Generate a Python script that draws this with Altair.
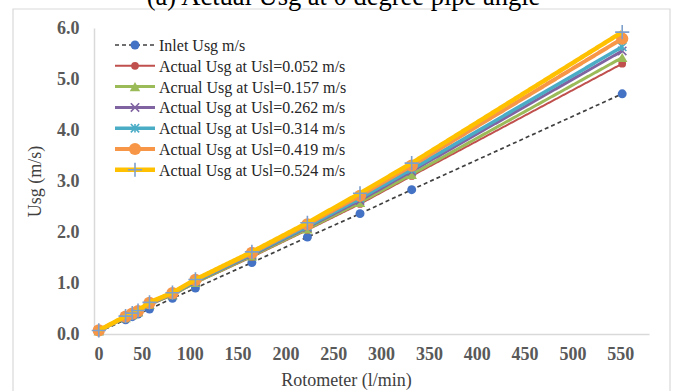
import altair as alt
import pandas as pd

# Rotometer readings (l/min) and gas superficial velocities (m/s)
flow = [5, 33, 40, 46, 58, 82, 106, 165, 223, 278, 332, 552]
inlet = [0.04, 0.28, 0.34, 0.39, 0.49, 0.70, 0.90, 1.40, 1.90, 2.36, 2.83, 4.71]
usg_052 = [0.06, 0.31, 0.37, 0.42, 0.57, 0.76, 1.00, 1.51, 2.04, 2.55, 3.10, 5.30]
usg_157 = [0.06, 0.32, 0.38, 0.43, 0.58, 0.77, 1.01, 1.53, 2.06, 2.58, 3.13, 5.42]
usg_262 = [0.07, 0.33, 0.39, 0.44, 0.59, 0.78, 1.03, 1.55, 2.09, 2.62, 3.19, 5.55]
usg_314 = [0.07, 0.33, 0.39, 0.44, 0.60, 0.79, 1.04, 1.57, 2.11, 2.66, 3.23, 5.63]
usg_419 = [0.07, 0.34, 0.40, 0.45, 0.61, 0.80, 1.06, 1.59, 2.15, 2.71, 3.30, 5.79]
usg_524 = [0.07, 0.35, 0.41, 0.46, 0.62, 0.81, 1.07, 1.61, 2.18, 2.76, 3.35, 5.92]

series_names = [
    "Inlet Usg m/s",
    "Actual Usg at Usl=0.052 m/s",
    "Acrual Usg at Usl=0.157 m/s",
    "Actual Usg at Usl=0.262 m/s",
    "Actual Usg at Usl=0.314 m/s",
    "Actual Usg at Usl=0.419 m/s",
    "Actual Usg at Usl=0.524 m/s",
]
series_values = [inlet, usg_052, usg_157, usg_262, usg_314, usg_419, usg_524]

x_ticks = [0, 50, 100, 150, 200, 250, 300, 350, 400, 450, 500, 550]
y_ticks = [0, 1, 2, 3, 4, 5, 6]

rows = []
for name, vals in zip(series_names, series_values):
    for q, v in zip(flow, vals):
        rows.append({"series": name, "flow": q, "usg": v})
df = pd.DataFrame(rows)

X_SHAPE = "M-1,-1L1,1M-1,1L1,-1"
STAR_SHAPE = "M-1,-1L1,1M-1,1L1,-1M0,-1L0,1"
PLUS_SHAPE = "M-1,0L1,0M0,-1L0,1"

# line colour, line width, dash, marker shape, marker colour, marker size, filled
styles = [
    dict(line="#404040", lw=1.7, dash=[4, 3], shape="circle", mc="#4472C4", ms=80, filled=True),
    dict(line="#C0504D", lw=2.0, dash=[1, 0], shape="circle", mc="#C0504D", ms=60, filled=True),
    dict(line="#9BBB59", lw=3.0, dash=[1, 0], shape="triangle-up", mc="#9BBB59", ms=110, filled=True),
    dict(line="#8064A2", lw=3.0, dash=[1, 0], shape=X_SHAPE, mc="#8064A2", ms=70, filled=False),
    dict(line="#4BACC6", lw=3.5, dash=[1, 0], shape=STAR_SHAPE, mc="#4BACC6", ms=70, filled=False),
    dict(line="#F79646", lw=4.0, dash=[1, 0], shape="circle", mc="#F79646", ms=150, filled=True),
    dict(line="#FFC000", lw=4.5, dash=[1, 0], shape=PLUS_SHAPE, mc="#7F9FCC", ms=200, filled=False),
]

PLOT_W, PLOT_H = 555, 306

x_enc = alt.X(
    "flow:Q",
    scale=alt.Scale(domain=[0, 580], nice=False),
    axis=alt.Axis(
        values=x_ticks, title="Rotometer (l/min)", titleX=252, titleY=46,
        titleAlign="center", titleBaseline="middle",
    ),
)
y_enc = alt.Y(
    "usg:Q",
    scale=alt.Scale(domain=[0, 6], nice=False),
    axis=alt.Axis(
        values=y_ticks, format=".1f", title="Usg (m/s)", titleX=-59, titleY=PLOT_H / 2,
        titleAlign="center", titleBaseline="middle", titleAngle=-90,
    ),
)

layers = []

# chart frame
layers.append(
    alt.Chart(alt.Data(values=[{}])).mark_rect(
        fillOpacity=0, stroke="#d9d9d9", strokeWidth=1.2
    ).encode(x=alt.value(-81), x2=alt.value(576), y=alt.value(-19), y2=alt.value(366))
)

# heading, partly above the frame
layers.append(
    alt.Chart(alt.Data(values=[{}])).mark_text(
        text="(a) Actual Usg at 0 degree pipe angle", font="Liberation Serif",
        fontSize=26.5, color="#000000", align="center", baseline="alphabetic",
    ).encode(x=alt.value(249.5), y=alt.value(-23))
)

for name, st in zip(series_names, styles):
    sub = alt.Chart(df).transform_filter(alt.datum.series == name)
    layers.append(
        sub.mark_line(color=st["line"], strokeWidth=st["lw"], strokeDash=st["dash"]).encode(
            x=x_enc, y=y_enc, order="flow:Q"
        )
    )
    layers.append(
        sub.mark_point(
            shape=st["shape"], size=st["ms"], filled=st["filled"], color=st["mc"],
            opacity=1, strokeWidth=1.6,
        ).encode(x=x_enc, y=y_enc)
    )

# legend in the upper-left of the plot
for i, (name, st) in enumerate(zip(series_names, styles)):
    ry = 17 + i * 20.8
    one = alt.Chart(alt.Data(values=[{"label": name}]))
    layers.append(
        one.mark_rule(color=st["line"], strokeWidth=st["lw"], strokeDash=st["dash"]).encode(
            x=alt.value(21), x2=alt.value(61), y=alt.value(ry)
        )
    )
    layers.append(
        one.mark_point(
            shape=st["shape"], size=st["ms"], filled=st["filled"], color=st["mc"],
            opacity=1, strokeWidth=1.6,
        ).encode(x=alt.value(41), y=alt.value(ry))
    )
    layers.append(
        one.mark_text(
            font="Liberation Serif", fontSize=16, color="#262626", align="left", baseline="middle"
        ).encode(text="label:N", x=alt.value(65), y=alt.value(ry + 1))
    )

chart = (
    alt.layer(*layers)
    .properties(
        width=PLOT_W, height=PLOT_H,
        autosize=alt.AutoSizeParams(type="none"),
        padding={"left": 94, "top": 28, "right": 25, "bottom": 57},
        background="#ffffff",
    )
    .configure_view(strokeWidth=0)
    .configure_axis(
        grid=False, ticks=False, domainColor="#d9d9d9", domainWidth=1.5,
        labelFont="Liberation Serif", labelFontSize=18, labelFontWeight="bold",
        labelColor="#595959", titleFont="Liberation Serif", titleFontSize=18,
        titleFontWeight="normal", titleColor="#404040",
    )
    .configure_axisX(labelPadding=11)
    .configure_axisY(labelPadding=15)
)

chart.save("out.html", embed_options={"renderer": "svg", "actions": False})
